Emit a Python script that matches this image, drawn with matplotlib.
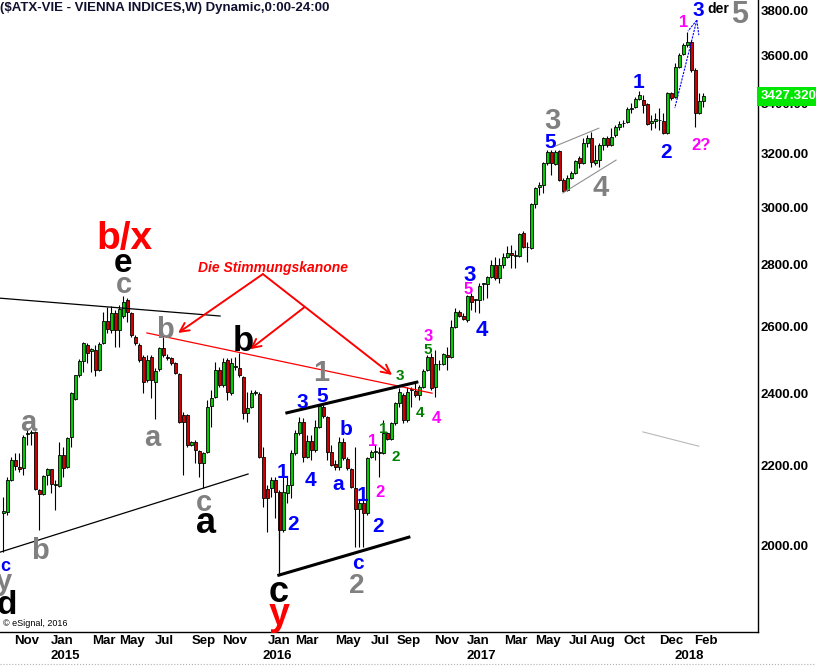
import numpy as np
import matplotlib
matplotlib.use('Agg')
import matplotlib.pyplot as plt
from matplotlib.ticker import FixedLocator, NullLocator, FuncFormatter
from matplotlib.transforms import blended_transform_factory
from matplotlib.lines import Line2D

plt.rcParams['font.family'] = ['Liberation Sans', 'DejaVu Sans']
plt.rcParams['font.weight'] = 'bold'

# weekly ATX candles, Sep 2014 .. Feb 2018
opens = [
    2079, 2081, 2162, 2215, 2196, 2193, 2285, 2288, 2290, 2137,
    2126, 2175, 2191, 2149, 2147, 2228, 2196, 2277, 2383, 2453,
    2494, 2543, 2524, 2527, 2468, 2549, 2617, 2589, 2642, 2589,
    2633, 2684, 2642, 2567, 2543, 2506, 2438, 2506, 2432, 2470,
    2533, 2506, 2503, 2488, 2456, 2338, 2338, 2255, 2263, 2239,
    2207, 2236, 2363, 2389, 2468, 2423, 2497, 2400, 2476, 2474,
    2447, 2343, 2360, 2400, 2397, 2223, 2139, 2141, 2162, 2131,
    2036, 2129, 2149, 2234, 2288, 2318, 2223, 2266, 2242, 2304,
    2360, 2332, 2236, 2204, 2196, 2263, 2217, 2191, 2141, 2088,
    2103, 2078, 2223, 2236, 2234, 2234, 2288, 2271, 2315, 2372,
    2395, 2324, 2409, 2406, 2395, 2418, 2468, 2506, 2418, 2485,
    2485, 2512, 2506, 2598, 2645, 2633, 2620, 2697, 2684, 2684,
    2736, 2736, 2759, 2799, 2756, 2799, 2826, 2840, 2830, 2830,
    2908, 2860, 2857, 3012, 3074, 3081, 3164, 3206, 3160, 3210,
    3100, 3063, 3107, 3126, 3183, 3164, 3240, 3260, 3164, 3175,
    3233, 3260, 3233, 3272, 3303, 3319, 3323, 3375, 3384, 3416,
    3412, 3396, 3319, 3327, 3331, 3327, 3280, 3441, 3424, 3550,
    3606, 3645, 3658, 3537, 3360, 3408]
highs = [
    2119, 2170, 2223, 2234, 2234, 2282, 2302, 2296, 2293, 2139,
    2176, 2193, 2191, 2162, 2263, 2250, 2277, 2403, 2453, 2500,
    2552, 2549, 2533, 2543, 2552, 2645, 2661, 2664, 2652, 2668,
    2697, 2690, 2645, 2573, 2549, 2512, 2512, 2512, 2474, 2536,
    2567, 2515, 2506, 2491, 2459, 2346, 2341, 2266, 2269, 2242,
    2236, 2380, 2409, 2491, 2476, 2503, 2503, 2503, 2506, 2518,
    2450, 2403, 2409, 2409, 2403, 2250, 2149, 2170, 2170, 2136,
    2170, 2170, 2242, 2296, 2332, 2329, 2282, 2282, 2324, 2366,
    2366, 2335, 2255, 2215, 2277, 2274, 2223, 2193, 2250, 2111,
    2119, 2223, 2242, 2255, 2250, 2324, 2290, 2318, 2375, 2415,
    2400, 2418, 2418, 2429, 2423, 2470, 2512, 2518, 2527, 2497,
    2518, 2536, 2620, 2658, 2652, 2642, 2700, 2707, 2687, 2739,
    2739, 2762, 2816, 2826, 2823, 2840, 2864, 2867, 2850, 2908,
    2915, 2877, 3015, 3074, 3092, 3168, 3213, 3213, 3213, 3213,
    3107, 3118, 3133, 3175, 3190, 3260, 3272, 3283, 3233, 3240,
    3264, 3268, 3300, 3311, 3327, 3331, 3384, 3400, 3424, 3449,
    3433, 3400, 3351, 3360, 3380, 3360, 3445, 3445, 3567, 3610,
    3654, 3702, 3667, 3546, 3441, 3441]
lows = [
    1983, 2073, 2160, 2188, 2183, 2175, 2255, 2255, 2136, 2036,
    2124, 2149, 2129, 2086, 2144, 2170, 2193, 2250, 2380, 2447,
    2462, 2488, 2462, 2450, 2465, 2546, 2580, 2580, 2537, 2537,
    2626, 2614, 2567, 2543, 2491, 2400, 2432, 2386, 2327, 2465,
    2506, 2497, 2482, 2456, 2315, 2175, 2250, 2252, 2207, 2170,
    2141, 2234, 2304, 2386, 2418, 2418, 2380, 2395, 2468, 2447,
    2327, 2318, 2358, 2395, 2220, 2093, 2031, 2119, 2066, 2012,
    2031, 2103, 2116, 2228, 2282, 2210, 2220, 2215, 2236, 2301,
    2329, 2215, 2199, 2188, 2188, 2215, 2188, 2141, 1995, 1995,
    1995, 2073, 2220, 2215, 2170, 2231, 2269, 2269, 2310, 2360,
    2315, 2318, 2360, 2389, 2380, 2415, 2465, 2409, 2389, 2468,
    2482, 2468, 2503, 2595, 2630, 2620, 2614, 2652, 2645, 2642,
    2684, 2690, 2756, 2749, 2739, 2789, 2823, 2789, 2789, 2826,
    2857, 2809, 2853, 2997, 3044, 3051, 3156, 3118, 3156, 3096,
    3055, 3059, 3103, 3122, 3145, 3160, 3225, 3149, 3156, 3149,
    3213, 3225, 3229, 3264, 3291, 3303, 3319, 3360, 3380, 3412,
    3360, 3311, 3291, 3299, 3291, 3276, 3276, 3412, 3420, 3546,
    3601, 3636, 3529, 3303, 3356, 3384]
closes = [
    2084, 2162, 2215, 2199, 2191, 2277, 2287, 2290, 2139, 2126,
    2173, 2191, 2152, 2152, 2228, 2193, 2274, 2400, 2453, 2494,
    2549, 2518, 2530, 2468, 2546, 2617, 2592, 2642, 2589, 2655,
    2677, 2645, 2573, 2549, 2497, 2432, 2497, 2438, 2465, 2533,
    2512, 2503, 2488, 2459, 2318, 2318, 2255, 2263, 2242, 2207,
    2234, 2360, 2386, 2468, 2423, 2491, 2403, 2488, 2479, 2453,
    2343, 2358, 2400, 2403, 2223, 2116, 2116, 2162, 2131, 2036,
    2131, 2149, 2234, 2288, 2318, 2223, 2266, 2242, 2304, 2363,
    2335, 2236, 2202, 2196, 2263, 2220, 2193, 2144, 2088, 2103,
    2078, 2220, 2236, 2238, 2236, 2288, 2271, 2315, 2372, 2403,
    2324, 2403, 2411, 2395, 2418, 2465, 2506, 2415, 2485, 2487,
    2515, 2506, 2598, 2645, 2633, 2623, 2697, 2677, 2686, 2729,
    2738, 2759, 2799, 2756, 2799, 2826, 2840, 2833, 2832, 2905,
    2860, 2862, 3012, 3070, 3081, 3164, 3206, 3164, 3206, 3100,
    3059, 3107, 3126, 3171, 3164, 3240, 3260, 3168, 3175, 3233,
    3260, 3233, 3264, 3303, 3315, 3321, 3375, 3380, 3416, 3433,
    3392, 3315, 3327, 3335, 3333, 3280, 3441, 3420, 3550, 3601,
    3645, 3658, 3537, 3360, 3408, 3427.32]

last_price = 3427.3201
price_ticks = [2000, 2200, 2400, 2600, 2800, 3000, 3200, 3400, 3600, 3800]

month_names = ['Nov', 'Jan', 'Mar', 'May', 'Jul', 'Sep', 'Nov', 'Jan', 'Mar', 'May', 'Jul',
               'Sep', 'Nov', 'Jan', 'Mar', 'May', 'Jul', 'Aug', 'Oct', 'Dec', 'Feb']
month_pos = [5.9, 14.7, 25.2, 32.2, 40.2, 50.2, 57.9, 68.9, 75.9, 86.2, 94.4,
             101.4, 110.9, 118.7, 128.2, 136.2, 143.9, 149.9, 157.7, 166.9, 175.7]
years = ['2015', '2016', '2017', '2018']
year_pos = [15.4, 68.4, 119.4, 171.4]

GRAY, BLUE, MAG, GRN, RED, BLK = '#808080', '#0000ff', '#ff00ff', '#008000', '#ff0000', 'black'

# wave counts: text, week index, price, colour, size
waves = [
    ('c', 0.4, 1948, BLUE, 13), ('y', 0.2, 1913, GRAY, 21), ('d', 0.9, 1868, BLK, 24),
    ('a', 6.2, 2315, GRAY, 21), ('b', 9.2, 1993, GRAY, 21),
    ('c', 30.2, 2733, GRAY, 21), ('e', 29.9, 2806, BLK, 24), ('b/x', 30.4, 2902, RED, 28),
    ('b', 40.4, 2598, GRAY, 21), ('a', 37.2, 2274, GRAY, 21), ('c', 50.2, 2103, GRAY, 21),
    ('a', 50.7, 2053, BLK, 26), ('b', 59.9, 2564, BLK, 25),
    ('1', 79.4, 2468, GRAY, 21), ('3', 74.7, 2378, BLUE, 15), ('5', 79.7, 2397, BLUE, 15),
    ('1', 69.9, 2188, BLUE, 15), ('2', 72.4, 2056, BLUE, 15), ('4', 76.7, 2167, BLUE, 15),
    ('b', 85.7, 2304, BLUE, 15), ('a', 83.7, 2152, BLUE, 15), ('1', 89.7, 2128, BLUE, 15),
    ('2', 93.7, 2049, BLUE, 15), ('c', 88.7, 1957, BLUE, 15), ('2', 88.4, 1910, GRAY, 20),
    ('c', 68.9, 1890, BLK, 26), ('y', 68.9, 1839, RED, 27),
    ('1', 92.4, 2269, MAG, 12), ('2', 94.2, 2134, MAG, 12),
    ('1', 94.9, 2304, GRN, 11), ('2', 98.2, 2228, GRN, 11), ('3', 99.2, 2453, GRN, 11),
    ('3', 106.2, 2573, MAG, 12), ('5', 106.2, 2533, GRN, 11), ('4', 104.2, 2349, GRN, 11),
    ('4', 108.2, 2332, MAG, 12),
    ('3', 116.7, 2772, BLUE, 16), ('5', 116.2, 2723, MAG, 12), ('4', 119.7, 2595, BLUE, 16),
    ('3', 137.2, 3339, GRAY, 21), ('5', 136.7, 3252, BLUE, 15), ('4', 149.4, 3081, GRAY, 21),
    ('1', 158.7, 3495, BLUE, 15), ('2', 165.7, 3213, BLUE, 15),
    ('1', 170.2, 3751, MAG, 12), ('3', 173.7, 3810, BLUE, 15), ('der', 178.7, 3815, BLK, 10),
    ('5', 184.2, 3795, GRAY, 22), ('2?', 174.4, 3237, MAG, 12),
]

o = np.array(opens); h = np.array(highs); l = np.array(lows); c = np.array(closes)
x = np.arange(len(o))

fig = plt.figure(figsize=(8.16, 6.66), dpi=100)
ax = fig.add_axes([0, 34 / 666, 758 / 816, 632 / 666])
ax.set_yscale('log')
ax.set_ylim(1801.7, 3848)
ax.set_xlim(-0.825, 188.7)

up = c >= o
ax.vlines(x, np.minimum(l, np.minimum(o, c)), np.maximum(h, np.maximum(o, c)),
          color='black', lw=0.8, zorder=2)
ax.bar(x, np.abs(c - o), bottom=np.minimum(o, c), width=0.65,
       color=np.where(up, '#00cc00', '#cc0000'), edgecolor='black', lw=0.6, zorder=3)

# trend lines and channels
ax.plot([-0.8, 54.2], [2690, 2633], color='black', lw=0.9, zorder=4)
ax.plot([-0.8, 61.2], [1983, 2178], color='black', lw=0.9, zorder=4)
ax.plot([35.9, 107.2], [2580, 2400], color='red', lw=0.9, zorder=4)
ax.plot([70.9, 103.4], [2344, 2432], color='black', lw=2.2, zorder=4)
ax.plot([68.9, 101.4], [1929, 2019], color='black', lw=2.2, zorder=4)
ax.plot([68.9, 68.9], [2129, 1929], color='black', lw=0.9, zorder=4)
ax.plot([137.4, 148.9], [3225, 3299], color='#909090', lw=0.8, zorder=4)
ax.plot([139.9, 153.2], [3052, 3175], color='#909090', lw=0.8, zorder=4)
ax.plot([159.9, 173.9], [2291, 2252], color='#b8b8b8', lw=0.8, zorder=4)
for tx, ty in [(167.9, 3380), (173.9, 3689), (171.2, 3707)]:
    ax.plot([173.4, tx], [3756, ty], color='blue', lw=0.8, ls=(0, (2, 1)), zorder=4)

# "Stimmungskanone" arrows
arrow = dict(arrowstyle='->', color='red', lw=1.4, shrinkA=0, shrinkB=0, mutation_scale=16)
ax.annotate('', xy=(43.7, 2580), xytext=(64.9, 2769), arrowprops=arrow, zorder=4)
ax.annotate('', xy=(97.2, 2453), xytext=(64.9, 2769), arrowprops=arrow, zorder=4)
ax.annotate('', xy=(61.7, 2530), xytext=(75.4, 2662), arrowprops=arrow, zorder=4)
ax.text(67.5, 2788, 'Die Stimmungskanone', color='red', fontsize=10, style='italic',
        ha='center', va='center', zorder=5)

for txt, wx, wy, col, size in waves:
    va = 'center' if txt in ('a', 'c', 'e', 'y') else 'center_baseline'
    ax.text(wx, wy, txt, color=col, fontsize=size, ha='center', va=va, zorder=5)

# axes styling
for side in ['left', 'top']:
    ax.spines[side].set_visible(False)
ax.spines['right'].set_linewidth(1.0)
ax.spines['bottom'].set_linewidth(1.0)
ax.yaxis.set_major_locator(FixedLocator(price_ticks))
ax.yaxis.set_minor_locator(NullLocator())
ax.yaxis.set_major_formatter(FuncFormatter(lambda v, _: f'{v:.2f}'))
ax.tick_params(axis='y', which='both', length=0, left=False, right=True,
               labelleft=False, labelright=True, pad=2, labelsize=9.5)
ax.set_xticks(month_pos)
ax.set_xticklabels(month_names)
ax.tick_params(axis='x', length=0, pad=2, labelsize=9.5)
trans = blended_transform_factory(ax.transData, ax.transAxes)
for yr, yp in zip(years, year_pos):
    ax.text(yp, -0.038, yr, transform=trans, ha='center', va='center', fontsize=9.5)

ptrans = blended_transform_factory(ax.transAxes, ax.transData)
ax.text(1.003, last_price, f'{last_price:.4f}', transform=ptrans, color='white', fontsize=9.5,
        ha='left', va='center', clip_on=False, zorder=6,
        bbox=dict(facecolor='#00e600', edgecolor='none', pad=2.5))

fig.text(0.0, 1 - 8 / 666, '($ATX-VIE - VIENNA INDICES,W) Dynamic,0:00-24:00',
         color='#101030', fontsize=9.5, ha='left', va='center')
fig.text(3 / 816, 1 - 623 / 666, '\u00a9 eSignal, 2016', fontsize=6.5, fontweight='normal',
         ha='left', va='center')
fig.add_artist(Line2D([0, 1], [2 / 666, 2 / 666], transform=fig.transFigure,
                      color='#b0b0b0', ls=':', lw=0.8))

fig.savefig('out.png', dpi=100)
